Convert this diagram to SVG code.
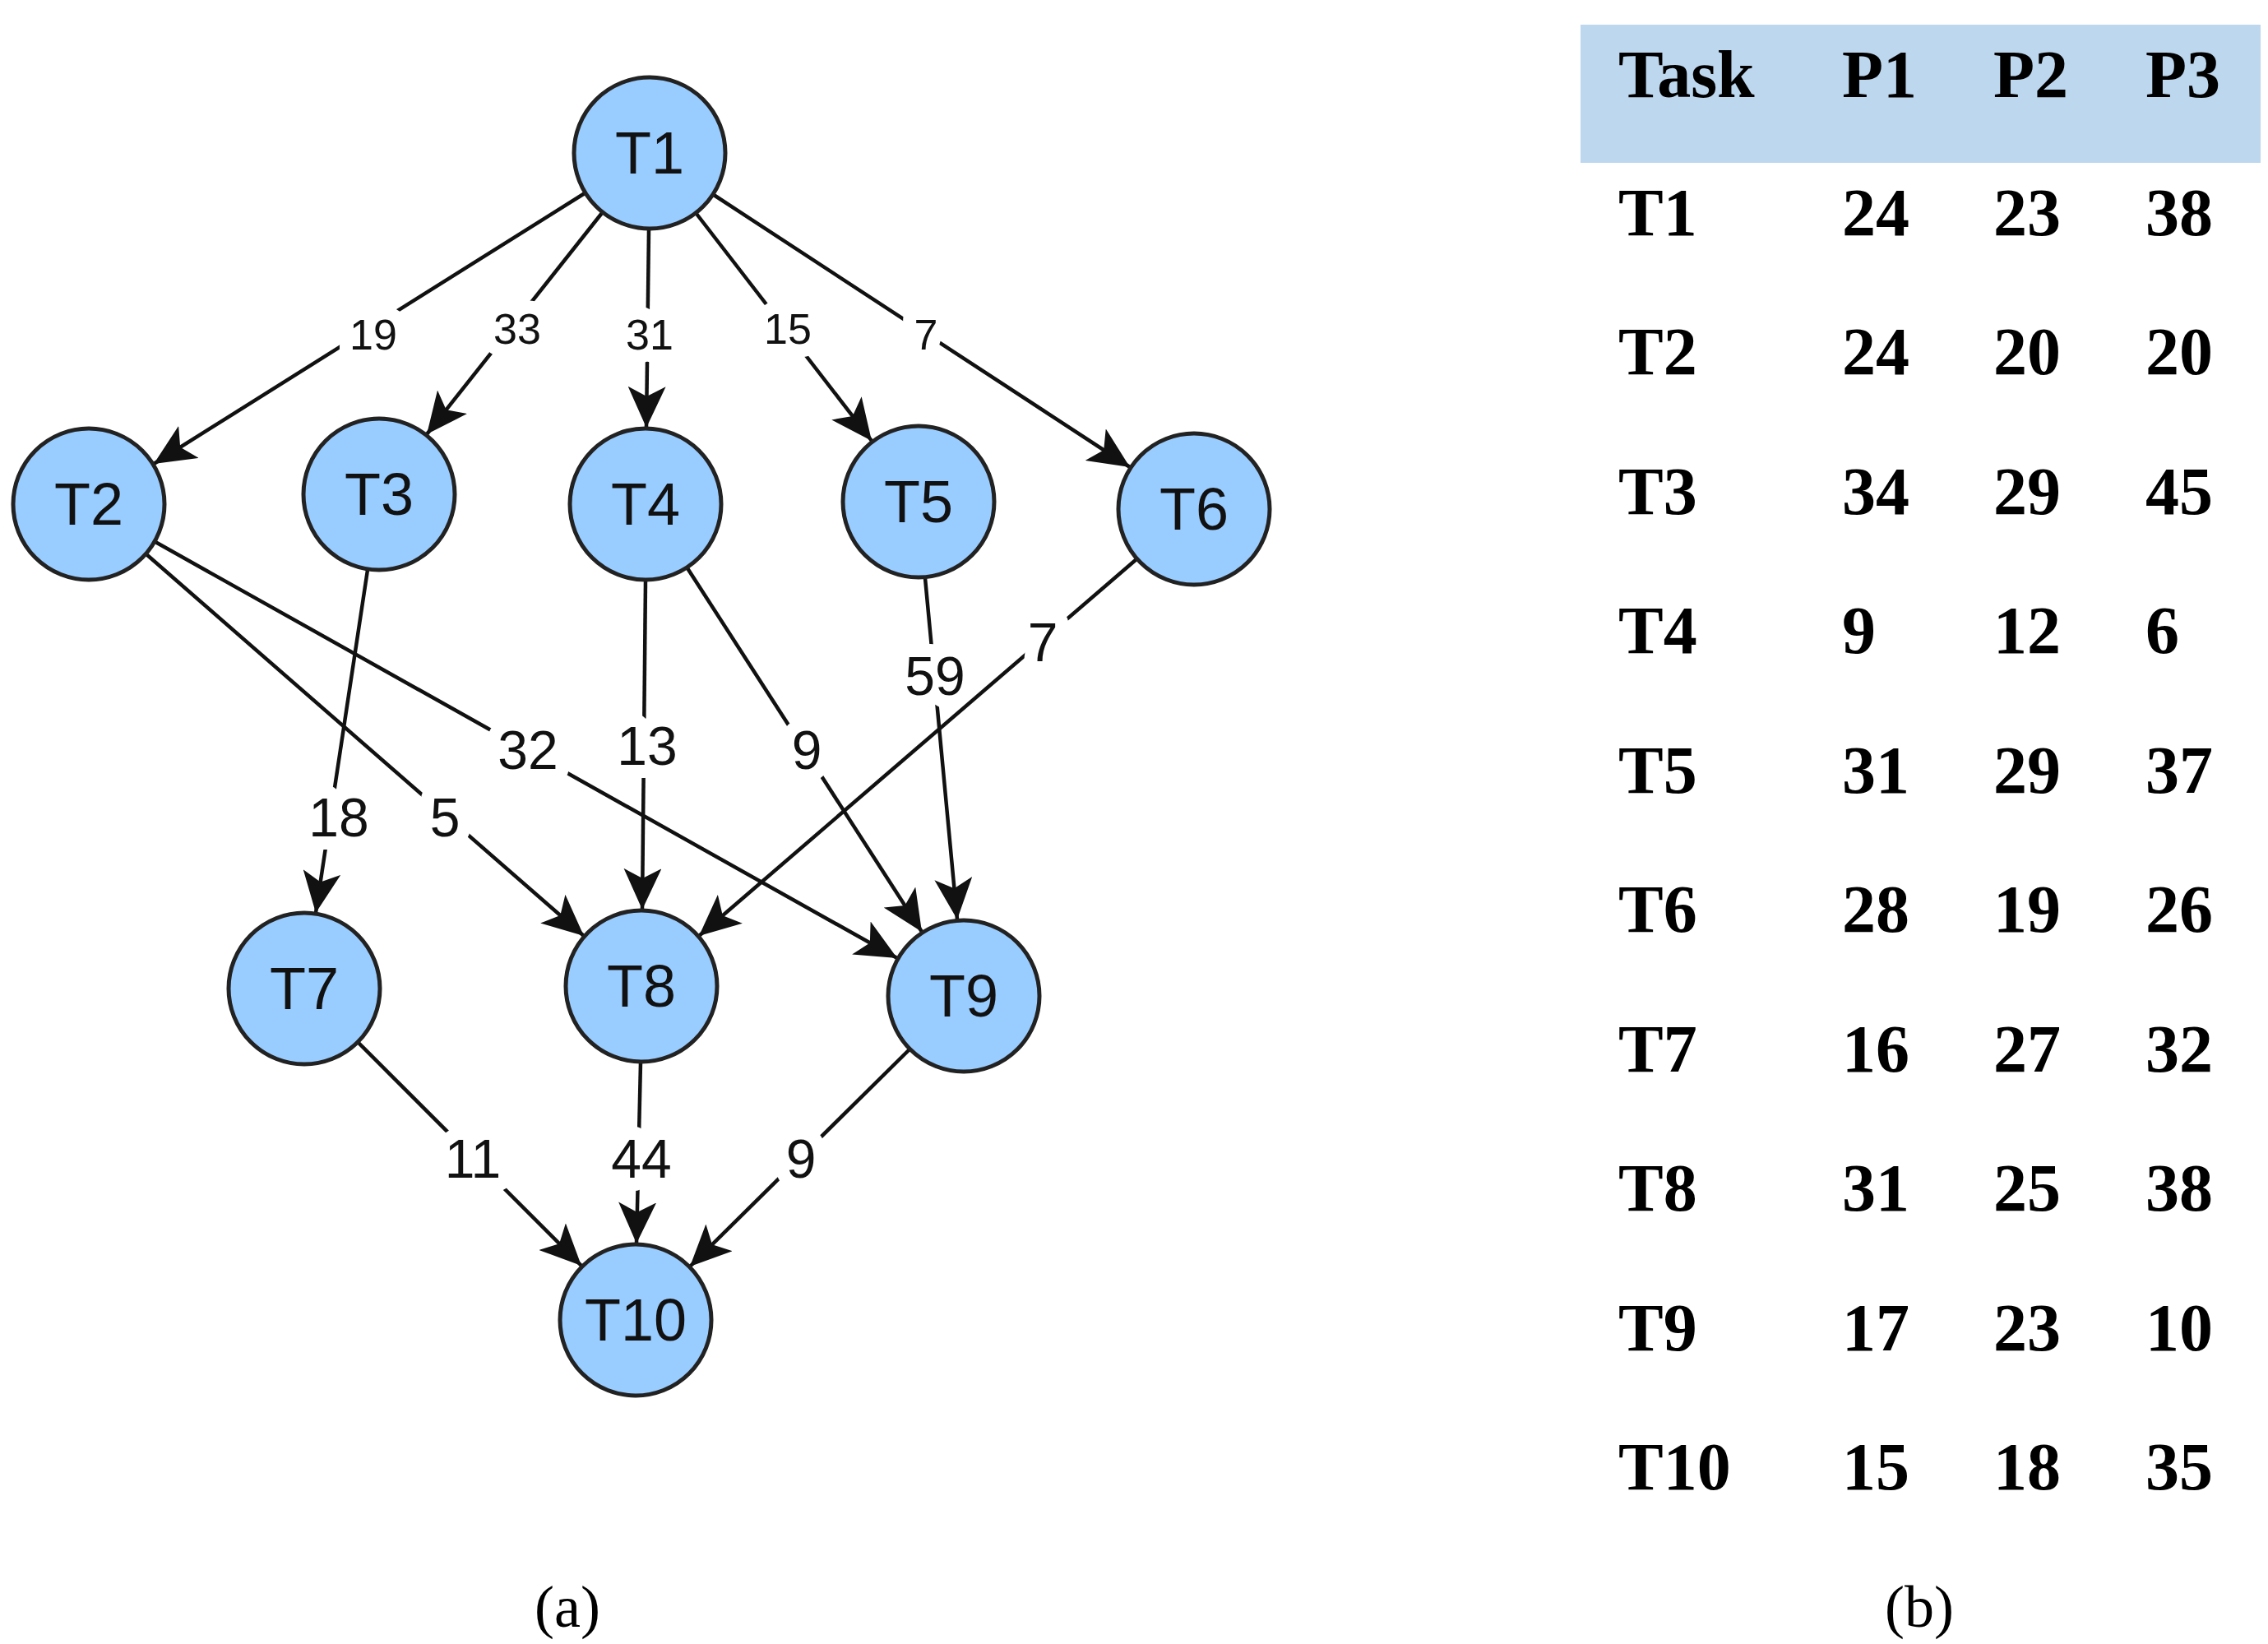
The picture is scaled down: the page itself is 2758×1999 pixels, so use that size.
<svg xmlns="http://www.w3.org/2000/svg" width="2758" height="1999" viewBox="0 0 2758 1999">
<style>
.n{fill:#99ccff;stroke:#222;stroke-width:5}
.nt{font-family:"Liberation Sans",Arial,sans-serif;font-size:72px;text-anchor:middle;dominant-baseline:central;fill:#111}
.e{stroke:#111;stroke-width:4.5;fill:none;marker-end:url(#ah)}
.l{font-family:"Liberation Sans",Arial,sans-serif;text-anchor:middle;dominant-baseline:central;fill:#111;stroke:#fff;stroke-width:32;stroke-linejoin:round;paint-order:stroke}
.s{font-size:52px}.b{font-size:66px}
.t{font-family:"Liberation Serif","Times New Roman",serif;font-weight:bold;font-size:82px;fill:#000}
.c{font-family:"Liberation Serif","Times New Roman",serif;font-size:72px;fill:#000;text-anchor:middle}
</style>
<defs><marker id="ah" markerUnits="userSpaceOnUse" markerWidth="52" markerHeight="46" refX="50" refY="23" orient="auto"><path d="M0,0 L50,23 L0,46 L12,23 Z" fill="#111"/></marker></defs>
<rect width="2758" height="1999" fill="#fff"/>
<g id="connectors">
<line class="e" x1="711" y1="235" x2="187" y2="564"/>
<line class="e" x1="732" y1="259" x2="519" y2="528"/>
<line class="e" x1="789" y1="279" x2="786" y2="520"/>
<line class="e" x1="847" y1="260" x2="1060" y2="536"/>
<line class="e" x1="868" y1="237" x2="1374" y2="568"/>
<line class="e" x1="178" y1="674" x2="710" y2="1138"/>
<line class="e" x1="189" y1="659" x2="1091" y2="1165"/>
<line class="e" x1="447" y1="693" x2="384" y2="1110"/>
<line class="e" x1="785" y1="706" x2="781" y2="1106"/>
<line class="e" x1="836" y1="691" x2="1121" y2="1133"/>
<line class="e" x1="1125" y1="703" x2="1164" y2="1118"/>
<line class="e" x1="1382" y1="680" x2="850" y2="1138"/>
<line class="e" x1="436" y1="1268" x2="707" y2="1539"/>
<line class="e" x1="779" y1="1292" x2="774" y2="1512"/>
<line class="e" x1="1106" y1="1276" x2="839" y2="1540"/>
<text class="l s" x="454" y="407">19</text>
<text class="l s" x="629" y="400">33</text>
<text class="l s" x="790" y="407">31</text>
<text class="l s" x="958" y="400">15</text>
<text class="l s" x="1126" y="407">7</text>
<text class="l b" x="412" y="994">18</text>
<text class="l b" x="541" y="994">5</text>
<text class="l b" x="642" y="912">32</text>
<text class="l b" x="787" y="907">13</text>
<text class="l b" x="981" y="912">9</text>
<text class="l b" x="1137" y="822">59</text>
<text class="l b" x="1268" y="781">7</text>
<text class="l b" x="575" y="1409">11</text>
<text class="l b" x="780" y="1409">44</text>
<text class="l b" x="974" y="1409">9</text>
</g>
<g id="T1"><circle class="n" cx="790" cy="186" r="92"/><text class="nt" x="790" y="186">T1</text></g>
<g id="T2"><circle class="n" cx="108" cy="613" r="92"/><text class="nt" x="108" y="613">T2</text></g>
<g id="T3"><circle class="n" cx="461" cy="601" r="92"/><text class="nt" x="461" y="601">T3</text></g>
<g id="T4"><circle class="n" cx="785" cy="613" r="92"/><text class="nt" x="785" y="613">T4</text></g>
<g id="T5"><circle class="n" cx="1117" cy="610" r="92"/><text class="nt" x="1117" y="610">T5</text></g>
<g id="T6"><circle class="n" cx="1452" cy="619" r="92"/><text class="nt" x="1452" y="619">T6</text></g>
<g id="T7"><circle class="n" cx="370" cy="1202" r="92"/><text class="nt" x="370" y="1202">T7</text></g>
<g id="T8"><circle class="n" cx="780" cy="1199" r="92"/><text class="nt" x="780" y="1199">T8</text></g>
<g id="T9"><circle class="n" cx="1172" cy="1211" r="92"/><text class="nt" x="1172" y="1211">T9</text></g>
<g id="T10"><circle class="n" cx="773" cy="1605" r="92"/><text class="nt" x="773" y="1605">T10</text></g>
<g id="table">
<rect x="1922" y="30" width="827" height="168" fill="#bdd7ee"/>
<g class="t">
<text x="1968" y="118">Task</text><text x="2240" y="118">P1</text><text x="2424" y="118">P2</text><text x="2609" y="118">P3</text>
<text x="1968" y="286">T1</text><text x="2240" y="286">24</text><text x="2424" y="286">23</text><text x="2609" y="286">38</text>
<text x="1968" y="455">T2</text><text x="2240" y="455">24</text><text x="2424" y="455">20</text><text x="2609" y="455">20</text>
<text x="1968" y="625">T3</text><text x="2240" y="625">34</text><text x="2424" y="625">29</text><text x="2609" y="625">45</text>
<text x="1968" y="794">T4</text><text x="2240" y="794">9</text><text x="2424" y="794">12</text><text x="2609" y="794">6</text>
<text x="1968" y="964">T5</text><text x="2240" y="964">31</text><text x="2424" y="964">29</text><text x="2609" y="964">37</text>
<text x="1968" y="1133">T6</text><text x="2240" y="1133">28</text><text x="2424" y="1133">19</text><text x="2609" y="1133">26</text>
<text x="1968" y="1303">T7</text><text x="2240" y="1303">16</text><text x="2424" y="1303">27</text><text x="2609" y="1303">32</text>
<text x="1968" y="1472">T8</text><text x="2240" y="1472">31</text><text x="2424" y="1472">25</text><text x="2609" y="1472">38</text>
<text x="1968" y="1642">T9</text><text x="2240" y="1642">17</text><text x="2424" y="1642">23</text><text x="2609" y="1642">10</text>
<text x="1968" y="1811">T10</text><text x="2240" y="1811">15</text><text x="2424" y="1811">18</text><text x="2609" y="1811">35</text>
</g>
</g>
<text class="c" x="690" y="1978">(a)</text>
<text class="c" x="2334" y="1978">(b)</text>
</svg>
